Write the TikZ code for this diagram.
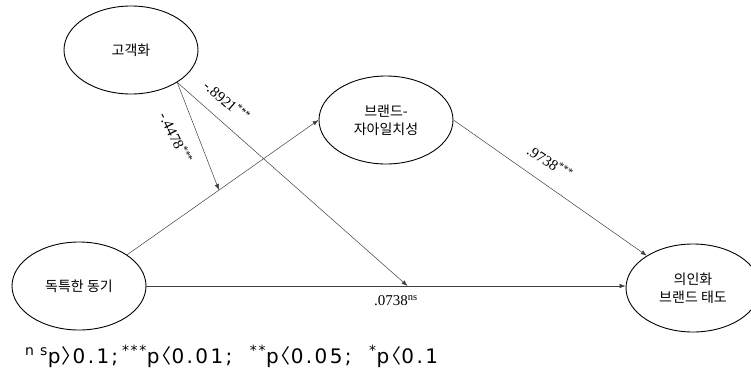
\documentclass[tikz,border=0pt]{standalone}
\usepackage{fontspec}
\setmainfont{Liberation Serif}
\newfontfamily\kor{Noto Sans CJK KR}
\newfontfamily\legfont[LetterSpace=12]{DejaVu Sans}
\newcommand{\lt}{{\kor\kern-0.4em〈}}
\newcommand{\gt}{\kern0.05em{\kor〉\kern-0.45em}}
\usetikzlibrary{shapes.geometric,arrows.meta}

\begin{document}
\begin{tikzpicture}[
    x=1pt, y=-1pt,
    var/.style={draw, ellipse, line width=0.9pt, minimum width=134pt, minimum height=88pt,
                inner sep=0pt, align=center, font=\kor\fontsize{14}{18}\selectfont},
    arr/.style={-{Latex[length=6pt,width=4.5pt]}, line width=0.5pt, draw=black!75},
    coef/.style={font=\fontsize{15}{15}\selectfont, inner sep=1pt}
]
\useasboundingbox (0,0) rectangle (751,369);

\node[var] (cust) at (131,50) {고객화};
\node[var] (brand) at (386,120) {브랜드-\\자아일치성};
\node[var] (uniq) at (79,286) {독특한 동기};
\node[var] (att) at (693,288) {의인화\\브랜드 태도};

\draw[arr] (uniq.33) -- coordinate[pos=0.48] (mix) (brand.west);
\draw[arr] (uniq.east) -- coordinate[pos=0.545] (hit) (uniq.east -| att.west);
\draw[arr] (brand.east) -- (att.145);
\draw[arr] (cust.-35) -- (mix);
\draw[arr] (cust.-35) -- (hit);

% path coefficients
\node[coef, rotate=-41] (c1) at (227,101) {-.8921\textsuperscript{***}};
\node[coef, rotate=-64] (c2) at (176,138) {-.4478\textsuperscript{***}};
\node[coef, rotate=-33] (c3) at (550,162) {.9738\textsuperscript{***}};
\node[coef] (c4) at (396,301) {.0738\textsuperscript{ns}};

\node[anchor=base west, inner sep=0pt, font=\legfont\fontsize{20}{20}\selectfont] (note) at (25,363)
  {\textsuperscript{n s}p\gt 0.1\hspace{2pt};\hspace{4pt}\textsuperscript{***}p\lt 0.01;\ \ \textsuperscript{**}p\lt 0.05;\ \ \textsuperscript{*}p\lt 0.1};
\end{tikzpicture}
\end{document}
